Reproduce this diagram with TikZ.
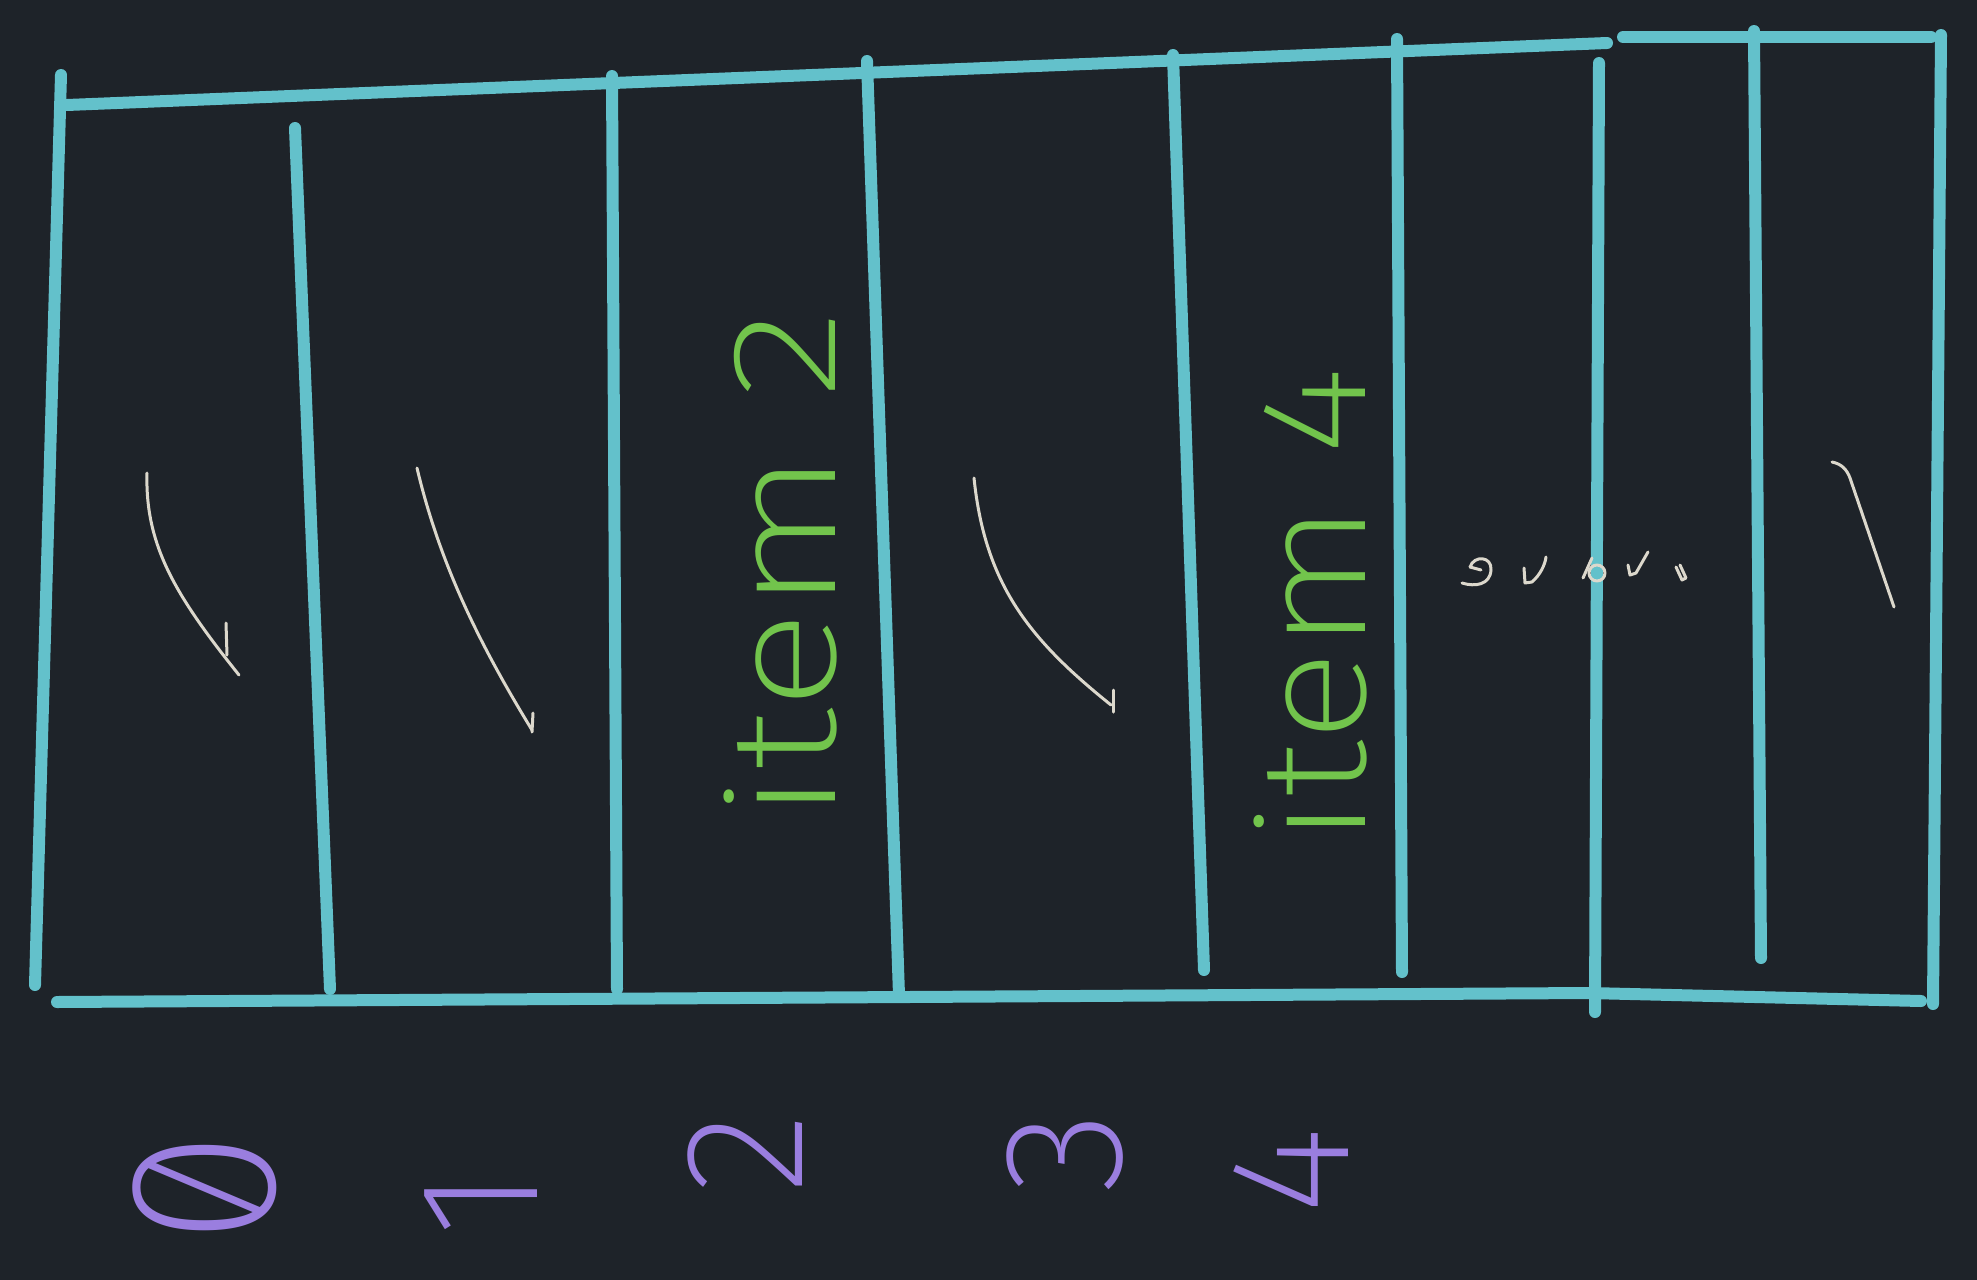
\documentclass[tikz,border=0pt]{standalone}
\usepackage{fontspec}
\newfontfamily\handfont{Fira Sans ExtraLight}[Numbers=SlashedZero]
\definecolor{bg}{HTML}{1E2329}
\definecolor{cyanline}{HTML}{63C1CB}
\definecolor{greenink}{HTML}{72C44C}
\definecolor{purpleink}{HTML}{9A7EDF}
\definecolor{chalk}{HTML}{DCD8CC}
\begin{document}
\begin{tikzpicture}[x=0.5pt,y=-0.5pt,
  gridline/.style={draw=cyanline, line width=6pt, line cap=round},
  scribble/.style={draw=chalk, line width=1.5pt, line cap=round, line join=round},
  greentext/.style={text=greenink, font=\handfont\fontsize{75}{80}\selectfont, rotate=90, inner sep=0pt, anchor=base west},
  digit/.style={text=purpleink, font=\handfont\fontsize{85}{90}\selectfont, rotate=90, inner sep=0pt}]
\fill[bg] (0,0) rectangle (1977,1280);
\useasboundingbox (0,0) rectangle (1977,1280);

% frame: top and bottom strokes
\coordinate (tl) at (67,105);
\coordinate (tr) at (1607,43);
\coordinate (tr2a) at (1623,37);
\coordinate (tr2b) at (1931,37);
\coordinate (bl) at (57,1002);
\coordinate (bm) at (1589,993);
\coordinate (br) at (1921,1001);
\draw[gridline] (tl) -- (tr);
\draw[gridline] (tr2a) -- (tr2b);
\draw[gridline] (bl) -- (bm) -- (br);

% vertical strokes
\coordinate (v1t) at (61,75);    \coordinate (v1b) at (35,985);
\coordinate (v2t) at (295,128);  \coordinate (v2b) at (330,989);
\coordinate (v3t) at (612,76);   \coordinate (v3b) at (617,989);
\coordinate (v4t) at (867,61);   \coordinate (v4b) at (899,995);
\coordinate (v5t) at (1173,55);  \coordinate (v5b) at (1204,970);
\coordinate (v6t) at (1397,39);  \coordinate (v6b) at (1402,972);
\coordinate (v7t) at (1599,63);  \coordinate (v7b) at (1595,1012);
\coordinate (v8t) at (1754,31);  \coordinate (v8b) at (1761,958);
\coordinate (v9t) at (1941,35);  \coordinate (v9b) at (1933,1004);
\foreach \i in {1,...,9} \draw[gridline] (v\i t) -- (v\i b);

% white pen strokes
\draw[scribble] (147,473) .. controls (145,545) and (175,595) .. (239,675);
\draw[scribble] (226,623) -- (227,655);
\draw[scribble] (417,468) .. controls (440,565) and (480,645) .. (532,730);
\draw[scribble] (533,713) -- (532,732);
\draw[scribble] (974,478) .. controls (985,585) and (1030,640) .. (1111,705);
\draw[scribble] (1113,690) -- (1113,712);
\draw[scribble] (1832,462) .. controls (1842,464) and (1847,470) .. (1850,478) -- (1894,607);

% grey scribble marks
\draw[scribble] (1470,567) .. controls (1474,555) and (1492,556) .. (1491,570)
  .. controls (1490,585) and (1475,587) .. (1462,583);
\draw[scribble] (1470,567) -- (1481,570);
\draw[scribble] (1524,568) -- (1525,583) -- (1532,582) .. controls (1540,575) and (1545,565) .. (1546,557);
\draw[scribble] (1583,578) -- (1592,558);
\draw[scribble] (1597,573) circle[x radius=8, y radius=8];
\draw[scribble] (1628,565) -- (1630,575) -- (1636,573) -- (1648,552);
\draw[scribble] (1676,567) -- (1682,580) -- (1686,578) -- (1680,565);

% green labels
\node[greentext] (item2) at (835,822) {\scalebox{1.25}[1]{item 2}};
\node[greentext] (item4) at (1365,845) {\scalebox{1.15}[1]{item 4}};

% purple digits
\node[digit, font=\handfont\fontsize{105}{110}\selectfont] (d0) at (205,1188) {0};
\node[digit] (d1) at (481,1203) {1};
\node[digit] (d2) at (745,1153) {2};
\node[digit] (d3) at (1065,1153) {3};
\node[digit] (d4) at (1291,1171) {4};
\end{tikzpicture}
\end{document}
